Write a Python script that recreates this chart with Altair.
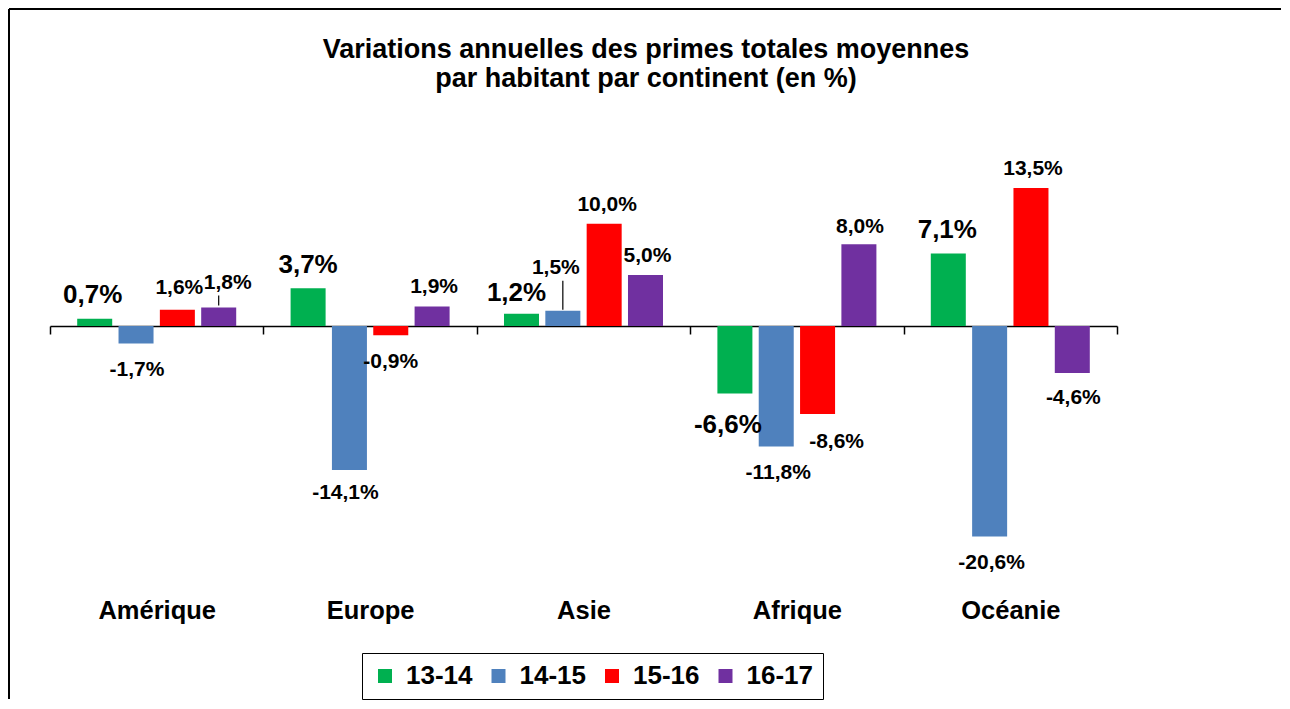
import altair as alt
import pandas as pd

# ---- data ----
continents = ["Amérique", "Europe", "Asie", "Afrique", "Océanie"]
periods = ["13-14", "14-15", "15-16", "16-17"]
v_13_14 = [0.7, 3.7, 1.2, -6.6, 7.1]
v_14_15 = [-1.7, -14.1, 1.5, -11.8, -20.6]
v_15_16 = [1.6, -0.9, 10.0, -8.6, 13.5]
v_16_17 = [1.8, 1.9, 5.0, 8.0, -4.6]
colors = ["#00B050", "#4F81BD", "#FF0000", "#7030A0"]
title_lines = ["Variations annuelles des primes totales moyennes",
               "par habitant par continent (en %)"]

# ---- label placement nudges (pixels; style only) ----
label_gap = [[24, -27, 22, 25], [23, -23, -27, 20], [21, 43, 19, 19],
             [-32, -26, -28, 17], [23, -26, 19, -25]]
label_dx = [[-2, 1, 2, 9], [0, -4, 0, 2], [-5, -7, 3, 2],
            [-7, 2, 19, 1], [-1, 2, 2, 1]]
leaders = [("Amérique", "16-17", 2, 12), ("Asie", "14-15", 1, 30)]

W, H = 1067, 430
ydom = [-24.85, 17.22]
K = H / (ydom[1] - ydom[0])
FONT = "Liberation Sans"

series = [v_13_14, v_14_15, v_15_16, v_16_17]
rows = []
for ci, c in enumerate(continents):
    for pi, p in enumerate(periods):
        v = series[pi][ci]
        rows.append({
            "continent": c, "period": p, "value": v,
            "label": f"{v:.1f}".replace(".", ",") + "%",
            "ly": v + label_gap[ci][pi] / K,
            "ldx": label_dx[ci][pi],
        })
df = pd.DataFrame(rows)

lrows = []
for c, p, a, b in leaders:
    v = df[(df.continent == c) & (df.period == p)].value.iloc[0]
    lrows.append({"continent": c, "period": p, "y1": v + a / K, "y2": v + b / K})
ldf = pd.DataFrame(lrows)

x = alt.X("continent:N", sort=continents,
          scale=alt.Scale(paddingInner=0, paddingOuter=0),
          axis=alt.Axis(title=None, orient="bottom", offset=-254, tickBand="extent",
                        domainColor="black", domainWidth=1.5, tickColor="black",
                        tickWidth=1.5, tickSize=8, labelPadding=264, labelFont=FONT,
                        labelFontSize=25.5, labelFontWeight="bold", labelColor="black",
                        labelAngle=0, grid=False))
xoff = alt.XOffset("period:N", sort=periods,
                   scale=alt.Scale(paddingInner=0.153, paddingOuter=0.658))
yscale = alt.Scale(domain=ydom, nice=False, zero=False)

bars = alt.Chart(df).mark_bar().encode(
    x=x, xOffset=xoff,
    y=alt.Y("value:Q", scale=yscale, axis=None),
    y2=alt.datum(0),
    color=alt.Color("period:N", sort=periods,
                    scale=alt.Scale(domain=periods, range=colors),
                    legend=alt.Legend(title=None, orient="none", legendX=312, legendY=503,
                                      direction="horizontal", symbolType="square",
                                      symbolSize=196, symbolStrokeWidth=0,
                                      labelFont=FONT, labelFontSize=26,
                                      labelFontWeight="bold", labelColor="black",
                                      labelOffset=8, columnPadding=12.5, padding=10,
                                      strokeColor="black", fillColor="white")),
)

labels = alt.Chart(df).mark_text(
    font=FONT, fontWeight="bold", color="black", baseline="middle", align="center",
    dx={"expr": "datum.ldx"},
).encode(
    x=x, xOffset=xoff,
    y=alt.Y("ly:Q", scale=yscale, axis=None),
    text="label:N",
    size=alt.condition(alt.datum.period == "13-14", alt.value(26), alt.value(21)),
)

leader_lines = alt.Chart(ldf).mark_rule(color="black", strokeWidth=1.2).encode(
    x=x, xOffset=xoff,
    y=alt.Y("y1:Q", scale=yscale, axis=None), y2="y2:Q",
)

one = pd.DataFrame({"t": ["\n".join(title_lines)]})
title = alt.Chart(one).mark_text(
    font=FONT, fontWeight="bold", fontSize=27, color="black", align="center",
    baseline="alphabetic", lineBreak="\n", lineHeight=29,
).encode(text="t:N", x=alt.value(596), y=alt.value(-92))

border_left = alt.Chart(one).mark_rule(color="black", strokeWidth=2).encode(
    x=alt.value(-41), y=alt.value(-141), y2=alt.value(549))
border_top = alt.Chart(one).mark_rule(color="black", strokeWidth=2).encode(
    x=alt.value(-41), x2=alt.value(1231), y=alt.value(-141))

chart = alt.layer(bars, labels, leader_lines, title, border_left, border_top).properties(
    width=W, height=H, padding=0,
).configure_view(strokeWidth=0)

chart.save("out.html", embed_options={"renderer": "svg", "actions": False})
